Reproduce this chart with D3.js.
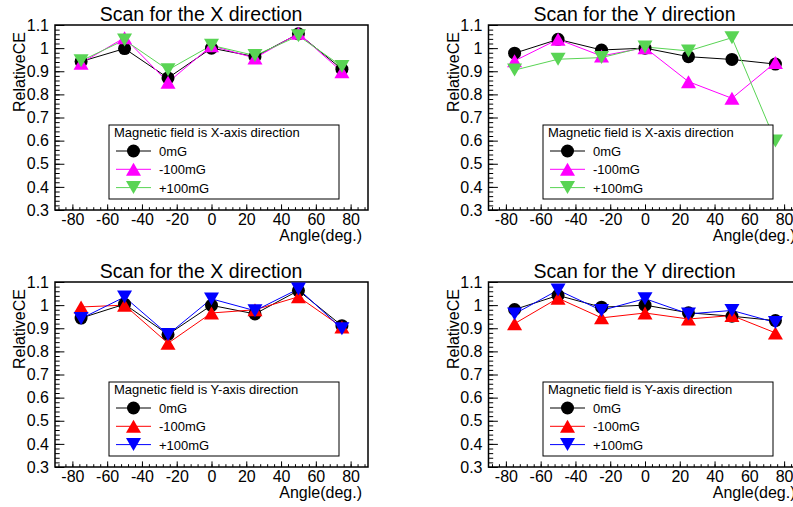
<html>
<head>
<title>Relative CE scans</title>
<script src="https://cdn.jsdelivr.net/npm/d3@7"></script>
<style>
  body { margin: 0; background: #fff; }
  text { font-family: "Liberation Sans", Arial, sans-serif; fill: #000; }
</style>
</head>
<body>
<div id="chart"></div>
<script>

// values
var angles = [-75, -50, -25, 0, 25, 50, 75];
var xTicks = [-80, -60, -40, -20, 0, 20, 40, 60, 80];
var yTicks = [0.3, 0.4, 0.5, 0.6, 0.7, 0.8, 0.9, 1.0, 1.1];
var seriesNames = ["0mG", "-100mG", "+100mG"];

// X scan, field along X
var scanX_fieldX_0    = [0.942, 0.998, 0.871, 1.000, 0.963, 1.062, 0.909];
var scanX_fieldX_m100 = [0.935, 1.045, 0.852, 1.010, 0.957, 1.064, 0.898];
var scanX_fieldX_p100 = [0.945, 1.035, 0.906, 1.012, 0.968, 1.053, 0.921];
// Y scan, field along X
var scanY_fieldX_0    = [0.978, 1.038, 0.992, 1.000, 0.963, 0.951, 0.931];
var scanY_fieldX_m100 = [0.945, 1.038, 0.966, 1.002, 0.855, 0.783, 0.938];
var scanY_fieldX_p100 = [0.905, 0.952, 0.959, 1.005, 0.988, 1.045, 0.598];
// X scan, field along Y
var scanX_fieldY_0    = [0.944, 1.004, 0.873, 0.999, 0.962, 1.063, 0.911];
var scanX_fieldY_m100 = [0.992, 1.000, 0.835, 0.966, 0.980, 1.036, 0.905];
var scanX_fieldY_p100 = [0.942, 1.035, 0.873, 1.027, 0.976, 1.070, 0.898];
// Y scan, field along Y
var scanY_fieldY_0    = [0.981, 1.042, 0.991, 1.000, 0.967, 0.952, 0.933];
var scanY_fieldY_m100 = [0.920, 1.030, 0.945, 0.966, 0.940, 0.955, 0.880];
var scanY_fieldY_p100 = [0.962, 1.065, 0.977, 1.028, 0.962, 0.977, 0.925];

var colorsX = ["#000000", "#ff00ff", "#59d454"];
var colorsY = ["#000000", "#ff0000", "#0000ff"];
var shapes = ["circle", "up", "down"];

var W = 793, H = 507;
var svg = d3.select("#chart").append("svg")
  .attr("width", W).attr("height", H);

function marker(g, shape, color, cx, cy) {
  if (shape == "circle") {
    g.append("circle").attr("cx", cx).attr("cy", cy).attr("r", 6.5)
      .attr("fill", color);
  } else {
    var s = 7.5, h = 6.5;
    var pts = shape == "up"
      ? [[cx - s, cy + h], [cx + s, cy + h], [cx, cy - h]]
      : [[cx - s, cy - h], [cx + s, cy - h], [cx, cy + h]];
    g.append("path").attr("d", "M" + pts.join("L") + "Z").attr("fill", color);
  }
}

function drawPanel(left, top, title, legendTitle, legendX, series, colors) {
  var fw = 313, fh = 185;
  var g = svg.append("g").attr("transform", "translate(" + left + "," + top + ")");

  var x = d3.scaleLinear().domain([-90, 90]).range([0, fw]);
  var y = d3.scaleLinear().domain([0.3, 1.1]).range([fh, 0]);

  // minor ticks
  var yMinor = d3.range(0.3, 1.1001, 0.02);
  var xMinor = d3.range(-88, 89, 4);
  g.append("g").call(d3.axisLeft(y).tickValues(yMinor).tickSize(-4.7).tickFormat(""))
    .call(function(a) { a.select(".domain").remove(); });
  g.append("g").attr("transform", "translate(0," + fh + ")")
    .call(d3.axisBottom(x).tickValues(xMinor).tickSize(-2.8).tickFormat(""))
    .call(function(a) { a.select(".domain").remove(); });

  // major ticks + labels
  g.append("g").call(d3.axisLeft(y).tickValues(yTicks).tickSize(-9.4).tickPadding(6)
      .tickFormat(function(d) { return String(+d.toFixed(1)); }))
    .call(function(a) {
      a.select(".domain").remove();
      a.selectAll("text").attr("font-size", 16).attr("font-family", null);
    });
  g.append("g").attr("transform", "translate(0," + fh + ")")
    .call(d3.axisBottom(x).tickValues(xTicks).tickSize(-5.6).tickPadding(4)
      .tickFormat(function(d) { return String(d); }))
    .call(function(a) {
      a.select(".domain").remove();
      a.selectAll("text").attr("font-size", 16).attr("font-family", null);
    });

  // frame
  g.append("rect").attr("width", fw).attr("height", fh)
    .attr("fill", "none").attr("stroke", "#000").attr("stroke-width", 1.5);

  g.append("text").attr("x", 146).attr("y", -4).attr("text-anchor", "middle")
    .attr("font-size", 19.5).text(title);
  g.append("text").attr("x", fw - 6).attr("y", 216).attr("text-anchor", "end")
    .attr("font-size", 16).text("Angle(deg.)");
  g.append("text").attr("transform", "translate(-30,0) rotate(-90)")
    .attr("x", -7).attr("y", 0).attr("text-anchor", "end")
    .attr("font-size", 16).text("RelativeCE");

  var line = d3.line()
    .x(function(d) { return x(d[0]); })
    .y(function(d) { return y(d[1]); });

  series.forEach(function(vals, i) {
    var pts = angles.map(function(a, k) { return [a, vals[k]]; });
    g.append("path").attr("d", line(pts)).attr("fill", "none")
      .attr("stroke", colors[i]).attr("stroke-width", 1);
  });
  series.forEach(function(vals, i) {
    angles.forEach(function(a, k) {
      marker(g, shapes[i], colors[i], x(a), y(vals[k]));
    });
  });

  // legend
  var lg = g.append("g").attr("transform", "translate(" + legendX + ",100)");
  lg.append("rect").attr("width", 230).attr("height", 74)
    .attr("fill", "#fff").attr("stroke", "#000").attr("stroke-width", 1);
  lg.append("text").attr("x", 5).attr("y", 12).attr("font-size", 13).text(legendTitle);
  seriesNames.forEach(function(name, i) {
    var ry = 26 + i * 18.3;
    lg.append("line").attr("x1", 7).attr("x2", 42).attr("y1", ry).attr("y2", ry)
      .attr("stroke", colors[i]).attr("stroke-width", 1);
    marker(lg, shapes[i], colors[i], 24.5, ry);
    lg.append("text").attr("x", 50).attr("y", ry + 5).attr("font-size", 13).text(name);
  });
}

drawPanel(55, 25, "Scan for the X direction", "Magnetic field is X-axis direction", 54,
  [scanX_fieldX_0, scanX_fieldX_m100, scanX_fieldX_p100], colorsX);
drawPanel(488.5, 25, "Scan for the Y direction", "Magnetic field is X-axis direction", 54.5,
  [scanY_fieldX_0, scanY_fieldX_m100, scanY_fieldX_p100], colorsX);
drawPanel(55, 282, "Scan for the X direction", "Magnetic field is Y-axis direction", 54,
  [scanX_fieldY_0, scanX_fieldY_m100, scanX_fieldY_p100], colorsY);
drawPanel(488.5, 282, "Scan for the Y direction", "Magnetic field is Y-axis direction", 54.5,
  [scanY_fieldY_0, scanY_fieldY_m100, scanY_fieldY_p100], colorsY);

</script>
</body>
</html>
